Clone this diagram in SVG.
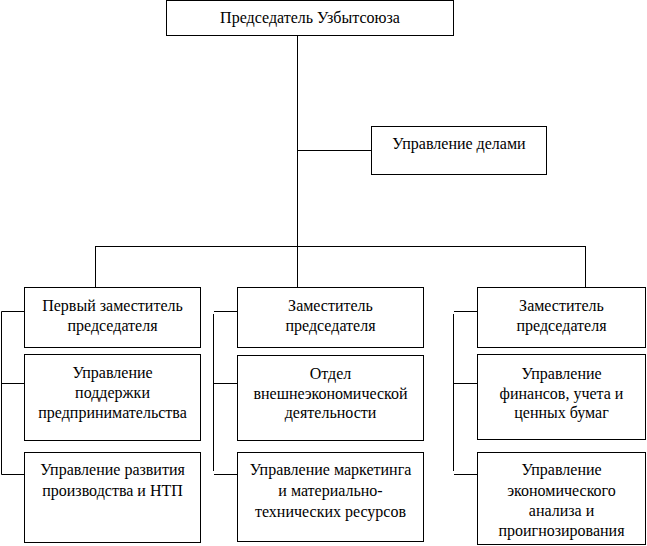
<svg xmlns="http://www.w3.org/2000/svg" width="647" height="546" viewBox="0 0 647 546">
<style>
.b{fill:#fff;stroke:#000;stroke-width:1}
.c{fill:none;stroke:#000;stroke-width:1}
.t{font-family:'Liberation Serif','Times New Roman',serif;font-size:16px;fill:#000;text-anchor:middle}
</style>
<rect width="647" height="546" fill="#fff"/>
<g id="connectors">
<path class="c" d="M297.5 36V246M297.5 150.5H371.5M95.5 246.5H585.5M95.5 246V287M297.5 246V287M585.5 246V287"/>
<path class="c" d="M24 311.5H1.5V474.5H24M1.5 383.5H24"/>
<path class="c" d="M237 311.5H214M213.5 314V471M214 474.5H237M213.5 383.5H237"/>
<path class="c" d="M477 311.5H454M453.5 314V471M454 474.5H477M453.5 383.5H477"/>
</g>
<g id="chair" class="t"><rect class="b" x="166.5" y="0.5" width="287" height="35"/><text x="310" y="23">Председатель Узбытсоюза</text></g>
<g id="affairs" class="t"><rect class="b" x="371.5" y="126.5" width="175" height="48"/><text x="459" y="149">Управление делами</text></g>
<g id="first-deputy" class="t"><rect class="b" x="24.5" y="287.5" width="176" height="60"/><text x="112.5" y="311">Первый заместитель</text><text x="112.5" y="331">председателя</text></g>
<g id="business-support" class="t"><rect class="b" x="24.5" y="354.5" width="176" height="86"/><text x="112.5" y="378">Управление</text><text x="112.5" y="398">поддержки</text><text x="112.5" y="418">предпринимательства</text></g>
<g id="production" class="t"><rect class="b" x="24.5" y="452.5" width="176" height="90"/><text x="112.5" y="475">Управление развития</text><text x="112.5" y="495.5">производства и НТП</text></g>
<g id="deputy-2" class="t"><rect class="b" x="237.5" y="287.5" width="186" height="60"/><text x="330.5" y="311">Заместитель</text><text x="330.5" y="331">председателя</text></g>
<g id="foreign-econ" class="t"><rect class="b" x="237.5" y="355.5" width="186" height="85"/><text x="330.5" y="379">Отдел</text><text x="330.5" y="398.5">внешнеэкономической</text><text x="330.5" y="418">деятельности</text></g>
<g id="marketing" class="t"><rect class="b" x="237.5" y="452.5" width="186" height="89"/><text x="330.5" y="475">Управление маркетинга</text><text x="330.5" y="496">и материально-</text><text x="330.5" y="516.5">технических ресурсов</text></g>
<g id="deputy-3" class="t"><rect class="b" x="477.5" y="287.5" width="168" height="60"/><text x="561.5" y="311">Заместитель</text><text x="561.5" y="331">председателя</text></g>
<g id="finance" class="t"><rect class="b" x="477.5" y="354.5" width="168" height="85"/><text x="561.5" y="379">Управление</text><text x="561.5" y="398.5">финансов, учета и</text><text x="561.5" y="418">ценных бумаг</text></g>
<g id="analysis" class="t"><rect class="b" x="477.5" y="452.5" width="168" height="92"/><text x="561.5" y="475">Управление</text><text x="561.5" y="495.5">экономического</text><text x="561.5" y="516">анализа и</text><text x="561.5" y="536">проигнозирования</text></g>
</svg>
